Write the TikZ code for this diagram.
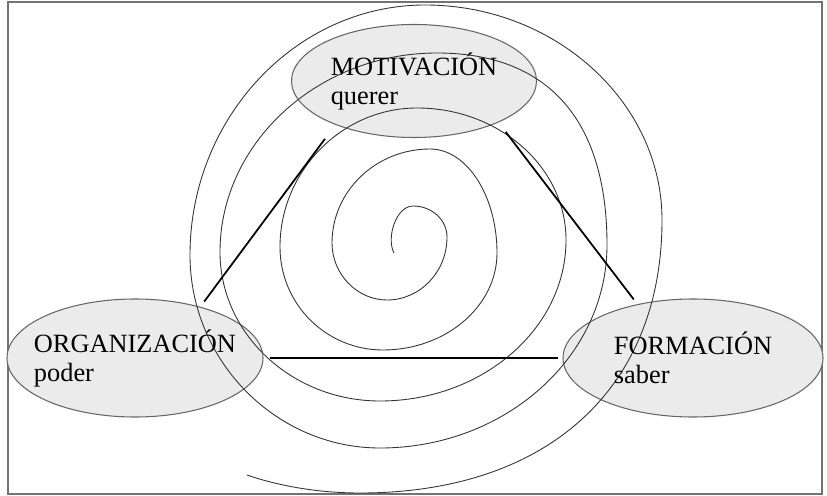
\documentclass[tikz,border=0pt]{standalone}
\usepackage{fontspec}
\setmainfont{Liberation Serif}
\usetikzlibrary{shapes.geometric}

\begin{document}
\begin{tikzpicture}[x=0.2mm,y=-0.2mm,
    circulo/.style={ellipse,draw=black!60,fill=black!8,line width=0.6pt,inner sep=0pt,outer sep=0pt},
    texto/.style={align=left,font=\fontsize{15}{16.5}\selectfont,inner sep=0pt},
    lado/.style={line width=1pt,black},
    espiral/.style={line width=0.5pt,black!80}]
    % Marco
    \useasboundingbox (0,0) rectangle (827,496);
    \draw[black!55,line width=0.8pt] (8,2) rectangle (822,494);

    % Elipses
    \node[circulo,minimum width=4.9cm,minimum height=2.26cm] (mot) at (414,81) {};
    \node[circulo,minimum width=5.12cm,minimum height=2.36cm] (org) at (135,358) {};
    \node[circulo,minimum width=5.2cm,minimum height=2.36cm] (form) at (693,358) {};

    % Espiral (desde el centro hacia fuera, un cuarto de vuelta por tramo)
    \draw[espiral] (394,253) .. controls (386,238) and (396,206) .. (413,206)
        .. controls (432,206) and (447,220) .. (447,237)
        .. controls (447,272) and (420,300) .. (387,300)
        .. controls (357,300) and (332,274) .. (332,243)
        .. controls (332,191) and (376,149) .. (430,149)
        .. controls (467,149) and (497,196) .. (497,253)
        .. controls (497,306) and (446,350) .. (383,350)
        .. controls (326,350) and (280,304) .. (280,247)
        .. controls (280,171) and (342,108) .. (417,108)
        .. controls (499,108) and (566,167) .. (566,240)
        .. controls (566,329) and (482,401) .. (380,401)
        .. controls (292,401) and (220,334) .. (220,252)
        .. controls (220,143) and (318,53) .. (437,53)
        .. controls (548,53) and (607,120) .. (607,245)
        .. controls (607,357) and (505,448) .. (380,448)
        .. controls (276,448) and (190,361) .. (190,255)
        .. controls (190,118) and (296,5) .. (425,5)
        .. controls (555,5) and (662,102) .. (662,220)
        .. controls (662,389) and (547,493) .. (360,493)
        .. controls (310,493) and (270,483) .. (247,475);

    % Lados del triangulo
    \draw[lado,shorten <=1.4mm,shorten >=3.6mm] (org.38) -- (mot.209);
    \draw[lado,shorten <=2.5mm,shorten >=1.3mm] (mot.334) -- (form.136);
    \draw[lado,shorten <=1.4mm,shorten >=1mm] (org) -- (form);

    % Textos
    \node[texto] (mottxt) at (mot) {MOTIVACIÓN\\querer};
    \node[texto] (orgtxt) at (org) {ORGANIZACIÓN\\poder};
    \node[texto] (formtxt) at (form) {FORMACIÓN\\saber};
\end{tikzpicture}
\end{document}
